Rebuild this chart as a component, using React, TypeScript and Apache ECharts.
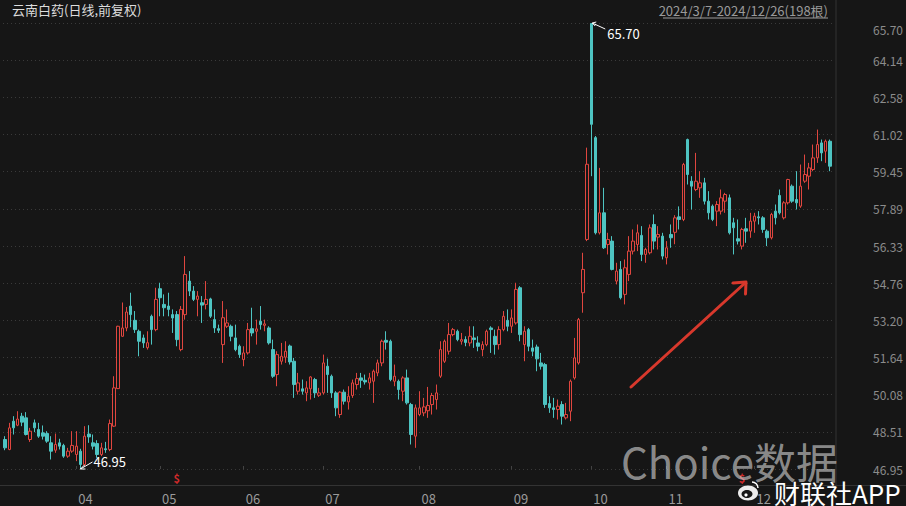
import React, { useEffect, useRef } from 'react';
import * as echarts from 'echarts';

// OHLC per trading day, 2024/3/7 - 2024/12/26 (198 days)
const opens = [
  48.19, 47.77, 48.96, 48.79, 49.17, 49.10, 48.19, 48.89, 48.61, 48.47,
  48.44, 48.05, 47.74, 48.05, 47.94, 47.49, 47.70, 47.56, 47.70, 47.14,
  48.42, 48.05, 48.02, 47.56, 47.80, 47.77, 48.75, 50.33, 52.53, 52.88,
  53.80, 53.20, 52.74, 52.46, 52.05, 53.37, 52.81, 54.53, 53.87, 53.80,
  53.44, 53.44, 51.97, 53.44, 54.85, 54.43, 54.08, 53.94, 53.87, 54.10,
  53.23, 52.85, 52.18, 52.95, 52.95, 52.46, 52.11, 51.55, 51.83, 52.85,
  52.74, 53.16, 52.99, 52.88, 51.97, 50.92, 51.48, 51.65, 52.12, 51.48,
  50.22, 50.32, 50.15, 50.32, 50.71, 50.05, 50.15, 51.27, 50.85, 50.15,
  49.24, 50.18, 49.77, 50.04, 50.50, 50.78, 50.68, 50.57, 50.64, 50.99,
  51.41, 52.36, 52.32, 50.64, 50.64, 50.22, 50.78, 49.66, 48.33, 49.24,
  49.31, 49.40, 49.66, 49.87, 50.85, 51.48, 51.90, 52.60, 52.74, 52.32,
  52.39, 52.25, 52.46, 52.25, 51.97, 52.18, 52.88, 52.53, 52.18, 52.81,
  53.20, 52.95, 53.09, 54.57, 52.18, 52.81, 52.04, 52.08, 51.41, 51.34,
  49.70, 49.52, 49.45, 49.66, 49.10, 49.38, 50.78, 51.41, 54.36, 56.60,
  65.68, 60.88, 56.88, 57.72, 56.39, 56.53, 54.85, 55.34, 54.29, 55.13,
  56.11, 56.39, 56.77, 55.97, 56.04, 57.23, 56.70, 56.74, 55.83, 56.81,
  56.90, 57.55, 57.44, 60.80, 59.05, 58.70, 58.77, 58.98, 58.21, 58.00,
  57.79, 57.79, 58.21, 58.35, 57.30, 56.63, 56.32, 57.05, 56.95, 57.37,
  57.55, 57.51, 56.95, 56.67, 57.79, 58.45, 57.51, 58.14, 58.84, 58.28,
  58.00, 59.05, 59.26, 59.54, 60.03, 60.66, 60.31, 60.73,
];
const closes = [
  47.84, 48.68, 48.68, 49.05, 48.92, 48.40, 48.54, 48.68, 48.33, 48.33,
  48.12, 47.70, 47.98, 47.91, 47.49, 47.70, 47.94, 47.91, 47.14, 48.33,
  48.30, 47.91, 47.56, 47.84, 47.76, 48.86, 50.36, 52.95, 52.88, 53.55,
  53.44, 52.81, 52.32, 52.25, 52.26, 52.81, 54.08, 54.15, 53.73, 53.66,
  53.30, 52.39, 53.66, 55.13, 54.43, 54.08, 54.22, 53.84, 54.08, 53.37,
  52.88, 52.78, 53.31, 53.09, 52.53, 51.97, 51.76, 51.83, 52.81, 52.67,
  52.84, 53.02, 53.05, 52.25, 50.85, 51.76, 51.69, 51.90, 51.45, 50.50,
  50.57, 50.22, 50.36, 50.82, 50.15, 50.15, 51.41, 50.92, 50.15, 49.52,
  50.18, 49.80, 50.01, 50.57, 50.75, 50.68, 50.61, 50.78, 51.06, 51.41,
  52.32, 52.28, 50.71, 50.85, 50.29, 50.78, 49.73, 48.40, 49.52, 49.52,
  49.56, 49.62, 50.04, 50.15, 51.97, 52.32, 52.60, 52.81, 52.39, 52.39,
  52.27, 52.53, 52.39, 52.11, 52.18, 52.74, 52.81, 52.18, 52.81, 53.37,
  52.95, 53.30, 54.50, 52.60, 52.74, 52.11, 51.90, 51.58, 51.27, 49.66,
  49.52, 49.45, 49.59, 49.17, 49.24, 50.64, 51.62, 53.23, 55.34, 59.76,
  61.44, 56.88, 57.72, 56.25, 56.60, 55.34, 55.27, 54.15, 55.41, 56.11,
  56.53, 56.88, 55.97, 56.18, 57.09, 56.53, 56.81, 55.90, 56.25, 56.67,
  57.51, 57.44, 59.75, 59.33, 58.84, 59.05, 58.98, 58.21, 57.72, 57.44,
  58.07, 58.35, 58.49, 56.88, 57.09, 56.53, 57.02, 56.95, 57.37, 57.58,
  57.51, 57.02, 56.67, 57.65, 57.51, 57.72, 58.14, 59.12, 58.21, 58.14,
  58.84, 59.33, 59.61, 60.03, 60.59, 60.24, 60.73, 59.68,
];
const lows = [
  47.74, 47.74, 48.40, 48.75, 48.75, 48.36, 48.09, 48.50, 48.26, 48.19,
  48.05, 47.35, 47.63, 47.77, 47.42, 47.42, 47.63, 47.28, 46.95, 47.07,
  48.05, 47.77, 47.42, 47.49, 47.63, 47.70, 48.72, 50.31, 52.51, 52.74,
  52.91, 52.67, 51.69, 52.04, 51.97, 52.18, 52.74, 53.37, 53.37, 53.37,
  52.67, 52.11, 51.90, 53.23, 54.22, 54.01, 53.37, 53.09, 53.66, 53.30,
  52.67, 52.67, 51.41, 52.88, 52.32, 51.90, 51.62, 51.27, 51.76, 52.53,
  52.18, 52.81, 52.74, 52.18, 50.78, 50.43, 51.34, 51.41, 51.34, 49.94,
  50.08, 50.08, 49.80, 49.87, 49.94, 49.98, 50.08, 50.15, 49.94, 49.17,
  49.10, 49.66, 49.45, 49.94, 50.29, 50.36, 50.50, 50.29, 49.73, 50.85,
  51.27, 51.97, 50.64, 50.43, 49.87, 49.80, 49.66, 47.98, 47.84, 49.17,
  49.17, 49.10, 49.24, 49.45, 50.78, 51.41, 51.76, 52.53, 52.32, 52.18,
  52.11, 52.11, 52.04, 51.90, 51.69, 52.11, 51.83, 51.76, 51.97, 52.74,
  52.74, 52.67, 53.02, 52.32, 51.48, 51.90, 51.69, 51.06, 51.13, 49.52,
  49.31, 49.10, 49.03, 48.82, 49.03, 48.96, 50.71, 51.34, 53.52, 56.53,
  59.26, 56.81, 56.81, 56.20, 55.97, 55.30, 54.71, 54.08, 53.87, 54.85,
  55.97, 56.11, 55.69, 55.62, 55.97, 56.18, 56.18, 55.76, 55.55, 56.25,
  56.40, 57.02, 57.37, 58.91, 57.86, 58.63, 58.35, 58.07, 57.44, 57.37,
  57.16, 57.65, 57.72, 56.81, 55.97, 56.39, 56.18, 56.46, 56.67, 56.88,
  57.23, 56.88, 56.32, 56.60, 57.23, 57.65, 57.44, 58.07, 58.14, 57.86,
  57.93, 58.98, 58.70, 59.47, 59.82, 59.89, 59.82, 59.47,
];
const highs = [
  48.33, 48.89, 49.17, 49.38, 49.31, 49.34, 48.68, 49.03, 48.89, 48.78,
  48.54, 48.33, 48.44, 48.22, 48.01, 47.84, 48.54, 48.54, 47.80, 48.75,
  48.79, 48.40, 48.16, 48.05, 48.09, 49.03, 50.85, 52.97, 53.95, 53.76,
  54.36, 53.59, 52.81, 52.60, 52.74, 53.44, 54.57, 54.78, 54.29, 54.36,
  53.66, 53.59, 53.80, 55.90, 55.27, 54.64, 54.43, 54.22, 54.85, 54.15,
  53.66, 53.02, 54.01, 53.66, 53.02, 53.02, 52.18, 52.11, 53.09, 53.73,
  53.23, 53.80, 53.23, 52.95, 52.39, 51.90, 52.25, 52.32, 52.18, 51.62,
  50.99, 50.71, 50.64, 50.85, 50.78, 50.36, 51.76, 51.59, 50.92, 50.22,
  50.22, 50.29, 50.43, 50.71, 50.99, 50.99, 50.92, 50.99, 51.13, 51.55,
  52.39, 52.74, 52.39, 51.34, 50.71, 50.85, 51.13, 49.73, 49.66, 50.22,
  49.94, 50.40, 50.15, 50.50, 52.32, 52.39, 53.09, 52.88, 52.81, 52.67,
  52.53, 52.95, 52.95, 52.53, 52.32, 52.81, 52.95, 52.81, 52.95, 53.59,
  53.66, 53.66, 54.78, 54.64, 52.95, 52.88, 52.39, 52.18, 51.83, 51.41,
  50.01, 49.94, 49.87, 49.80, 49.73, 50.71, 52.46, 53.30, 56.04, 60.46,
  65.70, 60.95, 59.61, 58.77, 56.88, 56.74, 55.62, 55.69, 55.76, 56.74,
  57.02, 57.23, 57.16, 56.25, 57.23, 57.65, 57.16, 56.88, 56.53, 57.23,
  57.62, 57.99, 59.82, 60.84, 59.26, 60.24, 59.47, 59.19, 58.63, 58.07,
  58.21, 58.70, 58.56, 58.49, 57.51, 57.44, 57.09, 57.51, 57.72, 57.72,
  57.79, 57.58, 57.02, 57.72, 58.07, 58.70, 58.21, 59.15, 58.91, 59.47,
  59.75, 60.17, 59.82, 60.59, 61.22, 60.80, 60.80, 60.80,
];

const monthLabels = ['04', '05', '06', '07', '08', '09', '10', '11', '12'];
const monthStartIdx = [17, 37, 57, 76, 99, 121, 140, 158, 179];
const yTickLabels = ['46.95', '48.51', '50.08', '51.64', '53.20', '54.76', '56.33', '57.89', '59.45', '61.02', '62.58', '64.14', '65.70'];
const dividendIdx = [41, 176];

const FONT = '"Noto Sans CJK SC", "Noto Sans", sans-serif';
const BG = '#161616';
const RED = '#e0463f';
const TEAL = '#4ec4c2';

export default function App() {
  const ref = useRef<HTMLDivElement>(null);

  useEffect(() => {
    const chart = echarts.init(ref.current as HTMLDivElement, null, { renderer: 'svg' });
    const categories = opens.map((_, i) => String(i));
    const ohlc = opens.map((o, i) => [o, closes[i], lows[i], highs[i]]);
    const yMin = Math.min(...lows);
    const yMax = Math.max(...highs);

    const staticGraphics: any[] = [
      { type: 'text', left: 12, top: 3, style: { text: '云南白药(日线,前复权)', fill: '#dcdcdc', font: `13px ${FONT}` }, z: 10 },
      { type: 'text', x: 828, y: 10, style: { text: '2024/3/7-2024/12/26(198根)', fill: '#9a9a9a', font: `13px ${FONT}`, align: 'right', verticalAlign: 'middle' }, z: 10 },
      { type: 'line', shape: { x1: 663, y1: 18, x2: 828, y2: 18 }, style: { stroke: '#9a9a9a', lineWidth: 1 }, z: 10 },
      { type: 'line', shape: { x1: 836, y1: 0, x2: 836, y2: 485 }, style: { stroke: '#333333', lineWidth: 1 }, z: 5 },
      { type: 'line', shape: { x1: 0, y1: 485.5, x2: 906, y2: 485.5 }, style: { stroke: '#333333', lineWidth: 1 }, z: 5 },
      // red hand-drawn arrow
      { type: 'line', shape: { x1: 631, y1: 387, x2: 745, y2: 283 }, style: { stroke: '#d8382c', lineWidth: 3, lineCap: 'round' }, z: 20 },
      { type: 'polyline', shape: { points: [[733, 283], [746, 282], [745.5, 294]] }, style: { stroke: '#d8382c', lineWidth: 3, fill: 'none', lineJoin: 'round', lineCap: 'round' }, z: 20 },
      // watermarks
      { type: 'text', x: 621, y: 460, style: { text: 'Choice数据', fill: 'rgba(215,215,215,0.62)', font: `42px ${FONT}`, verticalAlign: 'middle' }, z: 30 },
      { type: 'ellipse', shape: { cx: 748, cy: 493, rx: 10, ry: 7.5 }, style: { fill: 'rgba(255,255,255,0.92)' }, z: 30 },
      { type: 'ellipse', shape: { cx: 747, cy: 494, rx: 5.5, ry: 4 }, style: { fill: BG }, z: 31 },
      { type: 'circle', shape: { cx: 746, cy: 495, r: 1.6 }, style: { fill: '#ffffff' }, z: 32 },
      { type: 'arc', shape: { cx: 752, cy: 488, r: 6, startAngle: -Math.PI / 2, endAngle: 0 }, style: { stroke: '#ffffff', lineWidth: 1.5, fill: 'none' }, z: 32 },
      { type: 'text', x: 774, y: 492, style: { text: '财联社APP', fill: '#ffffff', font: `26px ${FONT}`, verticalAlign: 'middle' }, z: 30 },
    ];

    const option: any = {
      backgroundColor: BG,
      animation: false,
      grid: { left: 3, right: 72, top: 23, bottom: 37 },
      xAxis: {
        type: 'category',
        data: categories,
        boundaryGap: true,
        offset: 16,
        axisLine: { show: false },
        axisTick: {
          show: true,
          inside: true,
          length: 3,
          alignWithLabel: true,
          interval: (i: number) => monthStartIdx.includes(i),
          lineStyle: { color: '#444' },
        },
        axisLabel: {
          interval: (i: number) => monthStartIdx.includes(i),
          formatter: (_v: string, i: number) => monthLabels[monthStartIdx.indexOf(i)] ?? '',
          align: 'left',
          color: '#9a9a9a',
          fontSize: 13,
          fontFamily: FONT,
          margin: 7,
          padding: [0, 0, 0, 2],
          hideOverlap: false,
        },
        splitLine: { show: false },
      },
      yAxis: [
        { type: 'value', min: yMin, max: yMax, show: false },
        {
          type: 'value',
          min: 0,
          max: yTickLabels.length - 1,
          interval: 1,
          position: 'right',
          axisLine: { show: false },
          axisTick: { show: false },
          axisLabel: {
            formatter: (v: number) => (v === yTickLabels.length - 1 ? `{top|${yTickLabels[v]}}` : yTickLabels[v]),
            color: '#8c8c8c',
            fontSize: 12,
            fontFamily: FONT,
            margin: 71,
            align: 'right',
            rich: { top: { padding: [13, 0, 0, 0], color: '#8c8c8c', fontSize: 12, fontFamily: FONT } },
          },
          splitLine: { show: true, lineStyle: { color: '#3a3a3a', type: [1, 3], width: 1 } },
        },
      ],
      series: [
        {
          type: 'candlestick',
          data: ohlc,
          barWidth: 3,
          itemStyle: {
            color: BG,
            color0: TEAL,
            borderColor: RED,
            borderColor0: TEAL,
            borderColorDoji: TEAL,
            borderWidth: 1,
          },
        },
      ],
      graphic: staticGraphics,
    };
    chart.setOption(option);

    const maxIdx = highs.indexOf(yMax);
    const minIdx = lows.indexOf(yMin);
    const [hx, hy] = chart.convertToPixel({ xAxisIndex: 0, yAxisIndex: 0 }, [maxIdx, yMax]) as number[];
    const [lx, ly] = chart.convertToPixel({ xAxisIndex: 0, yAxisIndex: 0 }, [minIdx, yMin]) as number[];
    const dyn: any[] = [
      { type: 'line', shape: { x1: hx + 1, y1: hy, x2: hx + 14, y2: hy + 6 }, style: { stroke: '#ffffff', lineWidth: 1 }, z: 25 },
      { type: 'polyline', shape: { points: [[hx + 5, hy - 1], [hx + 1, hy], [hx + 4, hy + 3]] }, style: { stroke: '#ffffff', lineWidth: 1, fill: 'none' }, z: 25 },
      { type: 'text', x: hx + 16, y: hy + 10, style: { text: yMax.toFixed(2), fill: '#ffffff', font: `13px ${FONT}`, verticalAlign: 'middle' }, z: 25 },
      { type: 'line', shape: { x1: lx, y1: ly, x2: lx + 12, y2: ly - 7 }, style: { stroke: '#ffffff', lineWidth: 1 }, z: 25 },
      { type: 'polyline', shape: { points: [[lx + 4, ly - 4], [lx, ly], [lx + 5, ly]] }, style: { stroke: '#ffffff', lineWidth: 1, fill: 'none' }, z: 25 },
      { type: 'text', x: lx + 13, y: ly - 8, style: { text: yMin.toFixed(2), fill: '#ffffff', font: `13px ${FONT}`, verticalAlign: 'middle' }, z: 25 },
    ];
    dividendIdx.forEach((di) => {
      const [dx] = chart.convertToPixel({ xAxisIndex: 0, yAxisIndex: 0 }, [di, yMin]) as number[];
      dyn.push({ type: 'text', x: dx, y: 478, style: { text: '$', fill: '#d02a2a', font: `bold 11px ${FONT}`, align: 'center', verticalAlign: 'middle' }, z: 25 });
    });
    chart.setOption({ graphic: [...staticGraphics, ...dyn] });

    return () => chart.dispose();
  }, []);

  return <div ref={ref} style={{ position: 'fixed', left: 0, top: 0, width: 906, height: 506, background: BG }} />;
}
